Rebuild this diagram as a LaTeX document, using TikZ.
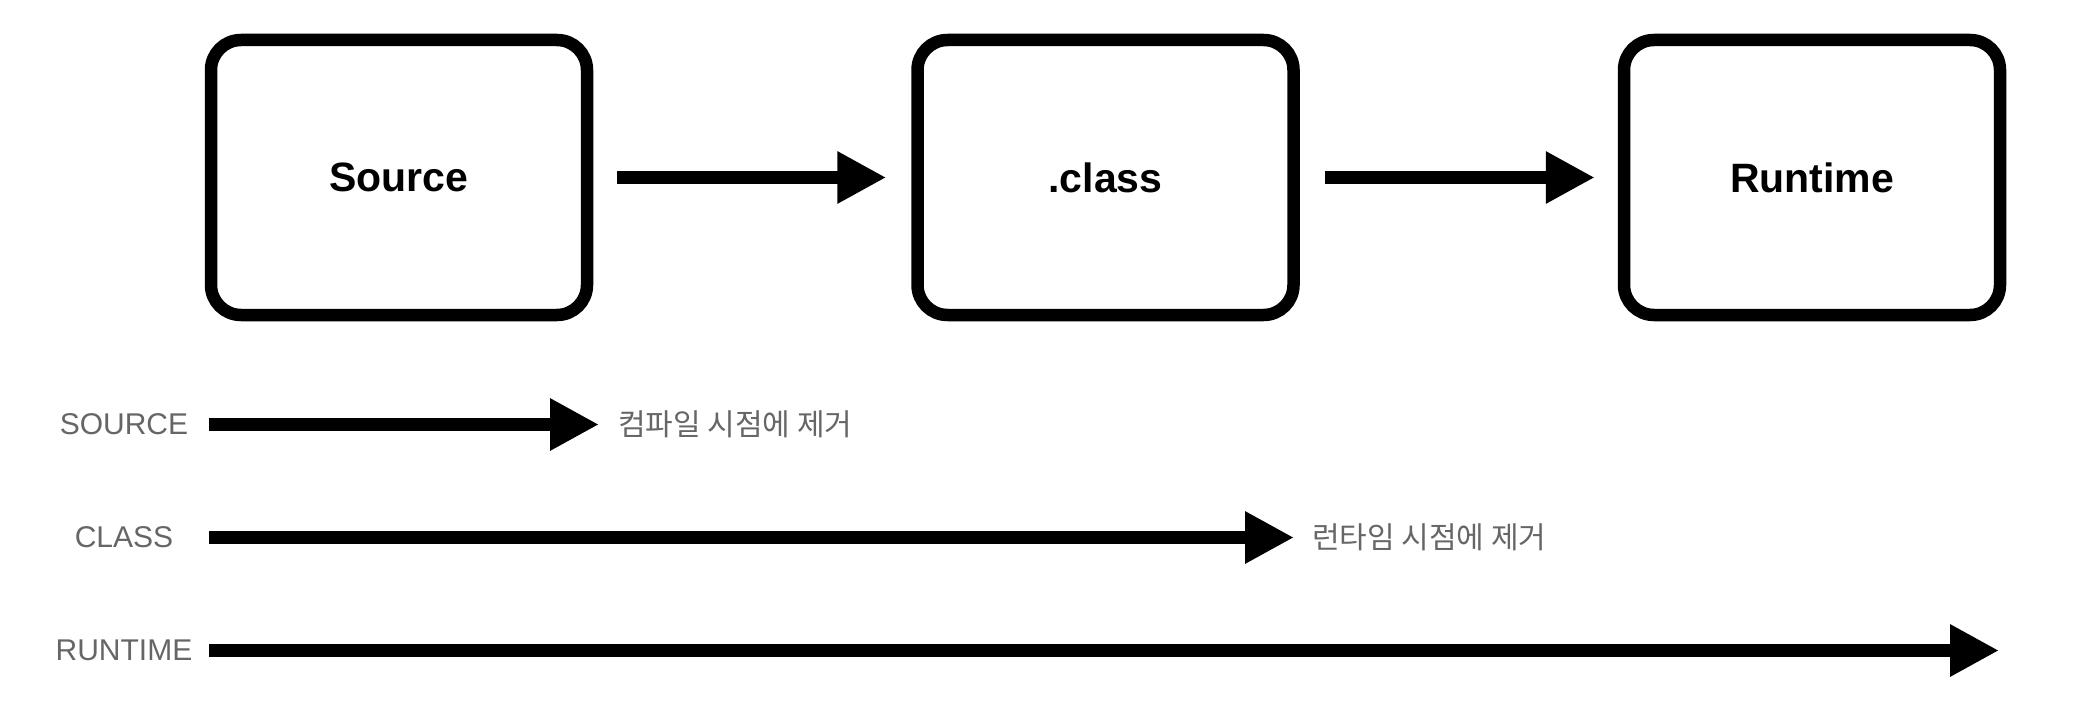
\documentclass[tikz,border=0pt]{standalone}
\usepackage{fontspec}
\setmainfont{Liberation Sans}
\newfontfamily\krfont{Noto Sans CJK KR}
\usepackage{xcolor}
\usetikzlibrary{arrows.meta, positioning}
\definecolor{labelgray}{RGB}{102,102,102}

\begin{document}
\begin{tikzpicture}[x=1pt, y=-1pt]
\tikzstyle{stage} = [rectangle, draw, line width=12.5pt, rounded corners=30pt, minimum width=376pt, minimum height=275pt, font=\fontsize{41}{49}\selectfont\bfseries]
\tikzstyle{flow} = [line width=12.7pt, -{Triangle[length=49pt, width=49pt]}]
\tikzstyle{policy} = [inner sep=0pt, text=labelgray, font=\fontsize{30}{36}\selectfont]
\tikzstyle{note} = [inner sep=0pt, anchor=west, text=labelgray, font=\krfont\fontsize{30}{36}\selectfont]

\useasboundingbox (0,0) rectangle (2074,722);

\node (src) [stage] at (399,177.5) {Source};
\node (cls) [stage, right=318pt of src] {.class};
\node (rt) [stage, right=318pt of cls] {Runtime};

\draw [flow, shorten <=24pt, shorten >=25pt] (src) -- (cls);
\draw [flow, shorten <=25pt, shorten >=23pt] (cls) -- (rt);

% retention levels
\node (lsource) [policy] at (124,424.5) {SOURCE};
\node (lclass) [policy] at (124,537.5) {CLASS};
\node (lruntime) [policy] at (124,650.5) {RUNTIME};
\node (nsource) [note] at (618,424.5) {컴파일 시점에 제거};
\node (nclass) [note] at (1312,537.5) {런타임 시점에 제거};
\coordinate (rtend) at (1999,650.5);

\draw [flow] ([xshift=85pt]lsource.center) -- ([xshift=-19pt]lsource.center -| nsource.west);
\draw [flow] ([xshift=85pt]lclass.center) -- ([xshift=-18pt]lclass.center -| nclass.west);
\draw [flow] ([xshift=85pt]lruntime.center) -- (rtend);

\end{tikzpicture}
\end{document}
